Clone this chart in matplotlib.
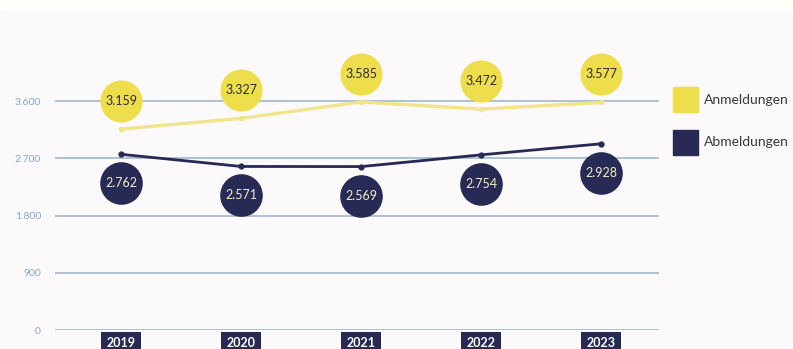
import matplotlib.pyplot as plt
from matplotlib.transforms import offset_copy
from matplotlib.patches import Rectangle

years = [2019, 2020, 2021, 2022, 2023]
anmeldungen = [3159, 3327, 3585, 3472, 3577]
abmeldungen = [2762, 2571, 2569, 2754, 2928]
yticks = [0, 900, 1800, 2700, 3600]
ytick_labels = ["0", "900", "1.800", "2.700", "3.600"]

YELLOW = "#efde4c"
YELLOW_LINE = "#f0e48c"
NAVY = "#272a55"
BG = "#fbf9fa"

plt.rcParams['font.family'] = ['Lato', 'DejaVu Sans']

fig = plt.figure(figsize=(7.93, 3.49), dpi=100, facecolor=BG)
fig.patches.append(Rectangle((0, 0.97), 1, 0.03, transform=fig.transFigure,
                             color="#fffef8", zorder=0))
ax = fig.add_axes([55 / 793, 19 / 349, 604 / 793, 290 / 349])
ax.set_facecolor(BG)
ax.set_xlim(2018.45, 2023.48)
ax.set_ylim(0, 4559)
for s in ax.spines.values():
    s.set_visible(False)

ax.set_yticks(yticks)
ax.set_yticklabels(ytick_labels)
ax.tick_params(axis='y', length=0, pad=10, labelsize=7.5, labelcolor="#82a8c9")
ax.set_xticks([])
ax.grid(axis='y', color="#a9bccd", linewidth=1.3)
ax.set_axisbelow(True)

ax.plot(years, anmeldungen, color=YELLOW_LINE, lw=2.4, marker='o', ms=3, zorder=3)
ax.plot(years, abmeldungen, color=NAVY, lw=2.0, marker='o', ms=3.5, zorder=3)

# value bubbles sit a fixed distance above / below each point
up = offset_copy(ax.transData, fig=fig, y=28, units='dots')
down = offset_copy(ax.transData, fig=fig, y=-29, units='dots')
ax.scatter(years, anmeldungen, s=860, color=YELLOW, transform=up, zorder=4, clip_on=False)
ax.scatter(years, abmeldungen, s=880, color=NAVY, transform=down, zorder=4, clip_on=False)
for x, v in zip(years, anmeldungen):
    ax.text(x, v, f"{v:,}".replace(",", "."), transform=up, ha='center', va='center',
            fontsize=9, color="#2f2f2f", zorder=5)
for x, v in zip(years, abmeldungen):
    ax.text(x, v, f"{v:,}".replace(",", "."), transform=down, ha='center', va='center',
            fontsize=9, color="#f2efc4", zorder=5)

# year boxes under the baseline
for x in years:
    ax.annotate(str(x), xy=(x, 0), xycoords=('data', 'axes fraction'),
                xytext=(0, -9.5), textcoords='offset points', ha='center', va='center',
                fontsize=9, fontweight='bold', color='white', annotation_clip=False,
                bbox=dict(boxstyle='square,pad=0.45', fc=NAVY, ec='none'))

# legend
fig.patches.append(Rectangle((673 / 793, 1 - 112 / 349), 25 / 793, 25 / 349,
                             transform=fig.transFigure, color=YELLOW))
fig.patches.append(Rectangle((673 / 793, 1 - 155 / 349), 25 / 793, 25 / 349,
                             transform=fig.transFigure, color=NAVY))
fig.text(704 / 793, 1 - 100 / 349, "Anmeldungen", fontsize=10, color="#3a3a3a", va='center')
fig.text(704 / 793, 1 - 142 / 349, "Abmeldungen", fontsize=10, color="#3a3a3a", va='center')

fig.savefig("out.png", dpi=100, facecolor=BG)
